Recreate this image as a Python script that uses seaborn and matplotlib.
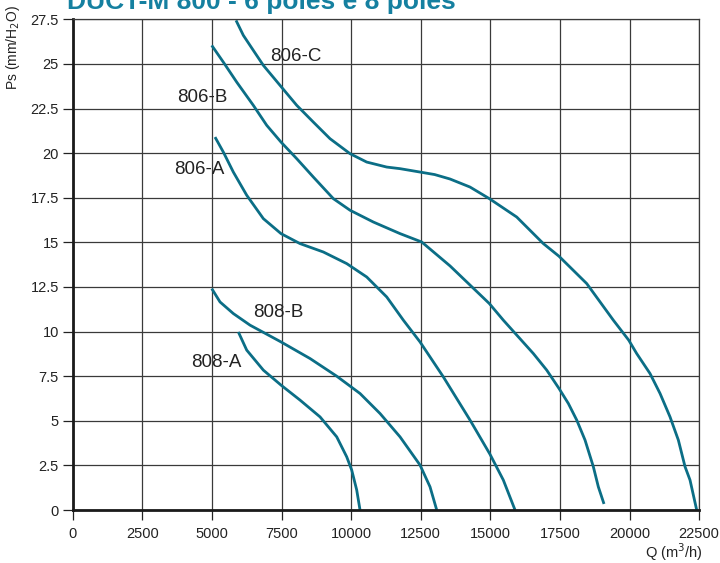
import pandas as pd
import numpy as np
import seaborn as sns
from matplotlib import pyplot as plt

# curves: Q (m3/h) vs Ps (mm H2O)
q_806c = [5866, 6129, 6487, 6847, 7446, 8046, 8643, 9242, 9961, 10560, 11279, 11757,
          12475, 13000, 13553, 14271, 14965, 15948, 16905, 17468, 18463, 19418,
          19971, 20257, 20736, 21097, 21455, 21754, 21994, 22173, 22413]
ps_806c = [27.44, 26.6, 25.76, 24.92, 23.8, 22.68, 21.74, 20.81, 19.97, 19.5, 19.22, 19.13,
           18.94, 18.8, 18.55, 18.1, 17.45, 16.42, 14.93, 14.22, 12.69, 10.64,
           9.52, 8.77, 7.65, 6.53, 5.22, 3.92, 2.43, 1.68, 0.0]

q_806b = [4993, 5410, 5891, 6487, 6968, 7482, 8046, 8643, 9361, 9961, 10798, 11757,
          12536, 13553, 14965, 15467, 16545, 17026, 17468, 17803, 18104, 18402,
          18700, 18880, 19084]
ps_806b = [26.04, 25.1, 23.98, 22.68, 21.56, 20.62, 19.69, 18.66, 17.45, 16.8, 16.14, 15.49,
           15.02, 13.68, 11.57, 10.64, 8.77, 7.84, 6.81, 5.97, 5.04, 3.92,
           2.43, 1.3, 0.34]

q_806a = [5111, 5410, 5769, 6250, 6847, 7482, 8165, 9002, 9842, 10560, 11279, 11876,
          12475, 13313, 14271, 14990, 15467, 15888]
ps_806a = [20.9, 20.06, 18.94, 17.64, 16.33, 15.49, 14.93, 14.46, 13.81, 13.06, 11.94, 10.64,
           9.42, 7.46, 5.04, 3.12, 1.68, 0.0]

q_808b = [4993, 5291, 5769, 6369, 7482, 8524, 9483, 10320, 11038, 11757, 12475, 12834, 13075]
ps_808b = [12.41, 11.66, 11.01, 10.36, 9.42, 8.49, 7.5, 6.53, 5.41, 4.1, 2.52, 1.3, 0.0]

q_808a = [5949, 6250, 6847, 7482, 8165, 8883, 9483, 9842, 10021, 10201, 10320]
ps_808a = [9.98, 8.96, 7.84, 7.0, 6.16, 5.22, 4.1, 2.98, 2.24, 1.12, 0.0]

curve_names = ['806-C', '806-B', '806-A', '808-B', '808-A']
label_q = [8030, 4670, 4550, 7390, 5170]
label_ps = [25.4, 23.1, 19.1, 11.05, 8.25]

x_ticks = [0, 2500, 5000, 7500, 10000, 12500, 15000, 17500, 20000, 22500]
y_ticks = [0, 2.5, 5, 7.5, 10, 12.5, 15, 17.5, 20, 22.5, 25, 27.5]
y_ticklabels = ['0', '2.5', '5', '7.5', '10', '12.5', '15', '17.5', '20', '22.5', '25', '27.5']

curves = pd.concat([
    pd.DataFrame({'Q': q, 'Ps': p, 'curve': n})
    for n, q, p in zip(curve_names,
                       [q_806c, q_806b, q_806a, q_808b, q_808a],
                       [ps_806c, ps_806b, ps_806a, ps_808b, ps_808a])
])

sns.set_style("ticks")
plt.rcParams['font.family'] = ['Liberation Sans', 'DejaVu Sans']

line_col = '#0b6e86'
grid_col = '#3a3a3a'

fig = plt.figure(figsize=(7.2, 5.63), dpi=100)
ax = fig.add_axes([0.101, 0.0941, 0.870, 0.8716])

for n in curve_names:
    sns.lineplot(data=curves[curves.curve == n], x='Q', y='Ps', sort=False,
                 estimator=None, color=line_col, linewidth=2.0, ax=ax,
                 solid_joinstyle='round', solid_capstyle='butt')

for n, xq, yp in zip(curve_names, label_q, label_ps):
    ax.text(xq, yp, n, fontsize=13.5, color='#222222', ha='center', va='center')

ax.set_xlim(0, 22500)
ax.set_ylim(0, 27.5)
ax.set_xticks(x_ticks)
ax.set_xticklabels([str(v) for v in x_ticks])
ax.set_yticks(y_ticks)
ax.set_yticklabels(y_ticklabels)
ax.grid(True, color=grid_col, linewidth=0.9)
ax.set_axisbelow(True)
ax.tick_params(axis='both', labelsize=10.5, colors='#222222', length=7, width=0.9,
               direction='out')
ax.tick_params(axis='x', pad=5)
ax.tick_params(axis='y', pad=3)

for s in ['left', 'bottom']:
    ax.spines[s].set_color('#1a1a1a')
    ax.spines[s].set_linewidth(2.0)
for s in ['top', 'right']:
    ax.spines[s].set_color(grid_col)
    ax.spines[s].set_linewidth(0.9)

ax.set_xlabel('')
ax.set_ylabel('')
fig.text(0.976, 1 - 552 / 563, 'Q (m$^3$/h)', fontsize=10.5, color='#222222',
         ha='right', va='center')
fig.text(13 / 720, 1 - 48 / 563, 'Ps (mm/H$_2$O)', fontsize=10, color='#222222',
         rotation=90, ha='center', va='center')
# title sits partly above the figure edge, as in the reference
fig.text(67 / 720, 1 - 9.5 / 563, 'DUCT-M 800 - 6 poles e 8 poles', fontsize=19,
         fontweight='bold', color='#1580a0', ha='left', va='baseline')

fig.savefig('out.png', dpi=100)
